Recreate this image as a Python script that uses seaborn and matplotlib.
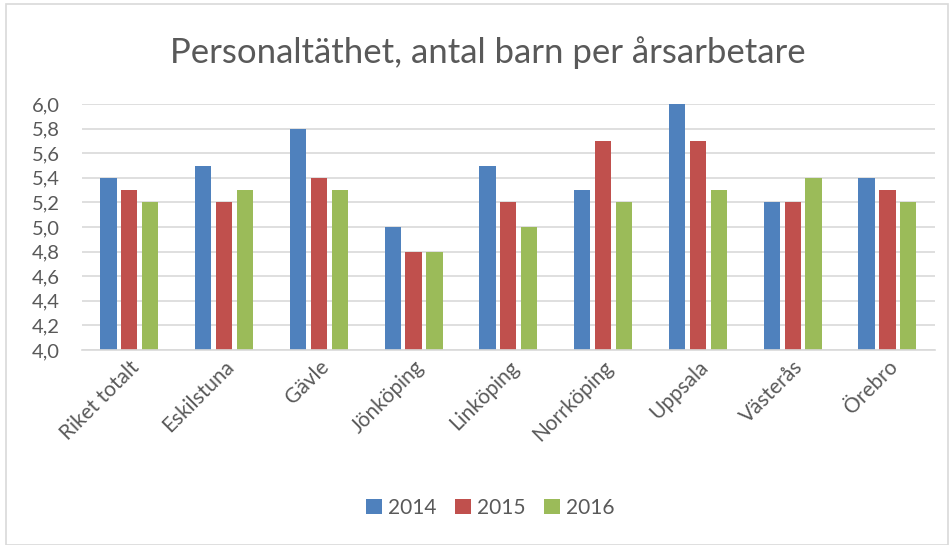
import matplotlib
matplotlib.use("Agg")
import matplotlib.pyplot as plt
import seaborn as sns
import pandas as pd
from matplotlib.patches import Rectangle
from matplotlib.ticker import FuncFormatter, MultipleLocator

kommuner = ["Riket totalt", "Eskilstuna", "Gävle", "Jönköping", "Linköping",
            "Norrköping", "Uppsala", "Västerås", "Örebro"]
år = ["2014", "2015", "2016"]
v2014 = [5.4, 5.5, 5.8, 5.0, 5.5, 5.3, 6.0, 5.2, 5.4]
v2015 = [5.3, 5.2, 5.4, 4.8, 5.2, 5.7, 5.7, 5.2, 5.3]
v2016 = [5.2, 5.3, 5.3, 4.8, 5.0, 5.2, 5.3, 5.4, 5.2]
färger = ["#4F81BD", "#C0504D", "#9BBB59"]

df = pd.DataFrame({
    "kommun": kommuner * 3,
    "år": [år[0]] * 9 + [år[1]] * 9 + [år[2]] * 9,
    "värde": v2014 + v2015 + v2016,
})

sns.set_theme(style="white")
plt.rcParams["font.family"] = ["Lato", "DejaVu Sans"]
text_color = "#595959"

fig = plt.figure(figsize=(9.52, 5.45), dpi=100)
ax = fig.add_axes([0.086, 0.358, 0.896, 0.451])

sns.barplot(data=df, x="kommun", y="värde", hue="år", palette=färger,
            width=0.66, gap=0.22, ax=ax, saturation=1, linewidth=0)

# value axis starts at 4,0; bars are clipped at the axis floor
ax.set_ylim(4.0, 6.0)
ax.set_xlim(-0.5, len(kommuner) - 0.5)
ax.yaxis.set_major_locator(MultipleLocator(0.2))
ax.yaxis.set_major_formatter(FuncFormatter(lambda v, p: f"{v:.1f}".replace(".", ",")))
ax.grid(axis="y", color="#D9D9D9", linewidth=1.2)
ax.set_axisbelow(True)
for s in ["top", "right", "left"]:
    ax.spines[s].set_visible(False)
ax.spines["bottom"].set_color("#D9D9D9")
ax.spines["bottom"].set_linewidth(1.2)
ax.set_xlabel("")
ax.set_ylabel("")
ax.tick_params(axis="y", labelsize=14.5, colors=text_color, length=0, pad=16)
ax.tick_params(axis="x", labelsize=15, colors=text_color, length=0, pad=5)
plt.setp(ax.get_xticklabels(), rotation=45, ha="right", rotation_mode="anchor")

handles, labels = ax.get_legend_handles_labels()
ax.legend(handles, labels, loc="center", bbox_to_anchor=(0.515, 0.068),
          bbox_transform=fig.transFigure, ncol=3, frameon=False,
          fontsize=15, labelcolor=text_color, handlelength=0.75,
          handleheight=0.75, handletextpad=0.3, columnspacing=0.9)

fig.text(0.512, 0.903, "Personaltäthet, antal barn per årsarbetare",
         ha="center", va="center", fontsize=25, color=text_color)

fig.patches.append(Rectangle((0.006, 0.0), 0.99, 0.992, transform=fig.transFigure,
                             fill=False, edgecolor="#D9D9D9", linewidth=1.2))

fig.savefig("out.png", dpi=100, facecolor="white")
